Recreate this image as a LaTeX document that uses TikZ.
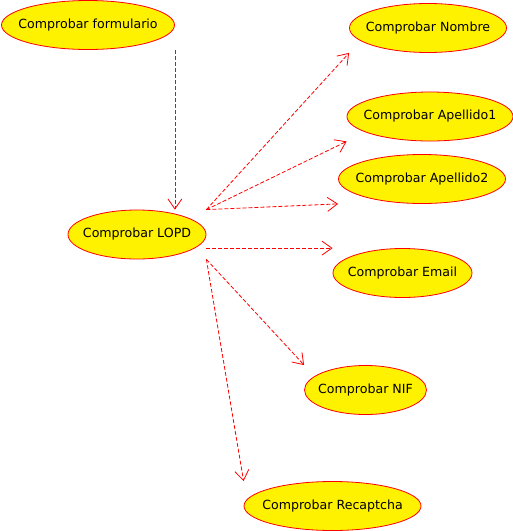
\documentclass[tikz,border=0pt]{standalone}
\usepackage{fontspec}
\setmainfont{DejaVu Sans}
\usetikzlibrary{shapes.geometric, arrows.meta}

\begin{document}
\begin{tikzpicture}[x=1pt,y=-1pt,
    caso/.style={ellipse,draw=red,fill=yellow,line width=0.8pt,inner sep=0pt,minimum height=49pt,minimum width=#1},
    every label/.style={inner sep=0pt,font=\fontsize{12.6}{15}\selectfont},
    dep/.style={red,line width=0.8pt,dash pattern=on 4pt off 2pt,-{Straight Barb[length=10pt,width=14pt]}}]
            \useasboundingbox (0,0) rectangle (513,531);
            \node[caso=173pt,label={center:Comprobar formulario}] (formulario) at (88,25) {};
            \node[caso=138pt,label={center:Comprobar LOPD}] (lopd) at (137,234.5) {};
            \node[caso=157pt,label={center:Comprobar Nombre}] (nombre) at (428,28) {};
            \node[caso=166pt,label={center:Comprobar Apellido1}] (apellido1) at (430,116.5) {};
            \node[caso=167pt,label={center:Comprobar Apellido2}] (apellido2) at (422,179) {};
            \node[caso=139pt,label={center:Comprobar Email}] (email) at (402.5,273) {};
            \node[caso=122pt,label={center:Comprobar NIF}] (nif) at (365.5,390) {};
            \node[caso=177pt,label={center:Comprobar Recaptcha}] (recaptcha) at (332.5,506) {};
            \draw[dep] (formulario.south -| formulario.east)--(formulario.east |- lopd.north);
            \draw[dep] (lopd.north -| lopd.east)--(nombre.south -| nombre.west);
            \draw[dep] (lopd.north -| lopd.east)--(apellido1.south -| apellido1.west);
            \draw[dep] (lopd.north -| lopd.east)--(apellido2.south -| apellido2.west);
            \draw[dep] (lopd.east |- email.north)--(email.north -| email.west);
            \draw[dep] (lopd.south -| lopd.east)--(nif.north -| nif.west);
            \draw[dep] (lopd.south -| lopd.east)--(recaptcha.north -| recaptcha.west);
        \end{tikzpicture}
\end{document}
